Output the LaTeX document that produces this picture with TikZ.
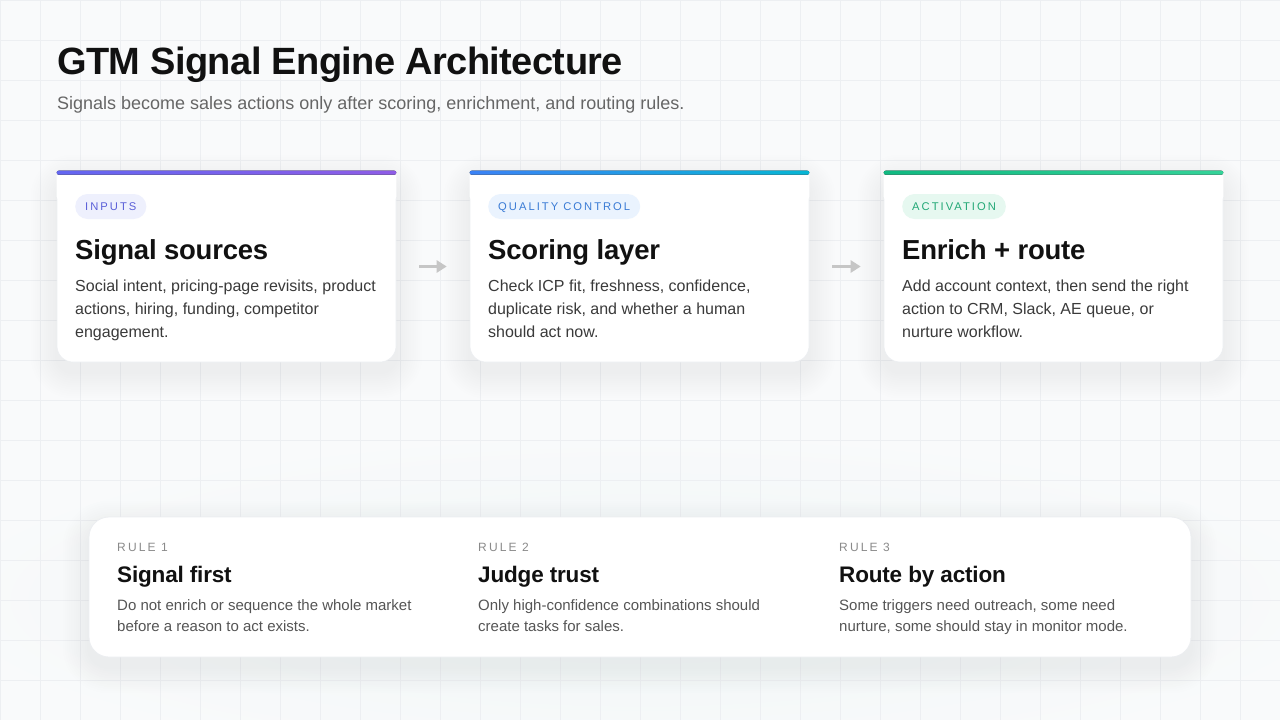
\documentclass[tikz,border=0pt]{standalone}
\usepackage{fontspec}
\setmainfont{Liberation Sans}
\newfontfamily\titlefont[LetterSpace=-1.5]{Liberation Sans}
\newfontfamily\headfont[LetterSpace=-0.8]{Liberation Sans}
\newfontfamily\trackfont[LetterSpace=18]{Liberation Sans}
\newfontfamily\rulefont[LetterSpace=18]{Liberation Sans}
\usetikzlibrary{arrows.meta,calc}
\definecolor{bgc}{HTML}{F9FAFB}
\definecolor{gridc}{HTML}{EDEFF2}
\definecolor{glowc}{HTML}{EFF6F6}
\definecolor{titlec}{HTML}{111111}
\definecolor{subc}{HTML}{666666}
\definecolor{bodyc}{HTML}{3A3A3A}
\definecolor{rbodyc}{HTML}{555555}
\definecolor{rlabc}{HTML}{8A8A8A}
\definecolor{arrowc}{HTML}{C6C6C6}
\definecolor{edgec}{HTML}{ECEEF1}
\definecolor{shadc}{HTML}{5A6470}
\definecolor{shadteal}{HTML}{7DB8B2}
\definecolor{barAl}{HTML}{6366F1}
\definecolor{barAr}{HTML}{8E5CE6}
\definecolor{barBl}{HTML}{3B82F6}
\definecolor{barBr}{HTML}{06B6D4}
\definecolor{barCl}{HTML}{10B981}
\definecolor{barCr}{HTML}{34D399}
\definecolor{pillAf}{HTML}{EEF0FD}
\definecolor{pillAt}{HTML}{5A5FD8}
\definecolor{pillBf}{HTML}{EAF3FE}
\definecolor{pillBt}{HTML}{3A7BD5}
\definecolor{pillCf}{HTML}{E6F8F0}
\definecolor{pillCt}{HTML}{22A876}
\newcommand\myfs[2]{\fontsize{#1}{#2}\selectfont}
\newcommand\softshadow[6]{%
  \foreach \k in {1,...,12}{%
    \fill[#5, opacity=#6, rounded corners={#3+\k*2.2}]
      ($(#1)+(-\k*2.2,-\k*2.2+#4)$) rectangle ($(#2)+(\k*2.2,\k*2.2+#4)$);
  }}
\tikzset{
  gridline/.style={gridc, line width=1pt},
  cardbox/.style={fill=white, draw=edgec, line width=0.6pt, rounded corners=16pt,
    minimum width=339pt, minimum height=191pt, inner sep=0pt},
  pill/.style={rounded corners=12.5pt, minimum height=25pt, inner xsep=10pt, inner ysep=0pt,
    text height=8pt, text depth=0pt, font=\trackfont\myfs{11.2}{13}, anchor=west},
  cardtitle/.style={anchor=base west, inner sep=0pt, text=titlec, font=\headfont\bfseries\myfs{27.5}{30}},
  cardbody/.style={anchor=base west, inner sep=0pt, text=bodyc, align=left, font=\myfs{16}{23}},
  flowarrow/.style={arrowc, line width=3.4pt, shorten <=23pt, shorten >=23pt,
    -{Triangle[length=10pt,width=12pt]}},
  panel/.style={fill=white, draw=edgec, line width=0.8pt, rounded corners=20pt,
    minimum width=1102pt, minimum height=140pt, inner sep=0pt},
  rulelabel/.style={anchor=base west, inner sep=0pt, text=rlabc, font=\rulefont\myfs{12}{14}},
  ruletitle/.style={anchor=base west, inner sep=0pt, text=titlec, font=\headfont\bfseries\myfs{22.5}{25}},
  rulebody/.style={anchor=base west, inner sep=0pt, text=rbodyc, align=left, font=\myfs{15}{21}},
}
\begin{document}
\begin{tikzpicture}[x=1pt, y=-1pt]
\useasboundingbox (0,0) rectangle (1280,720);
\fill[bgc] (0,0) rectangle (1280,720);
\shade[inner color=glowc, outer color=bgc] (640,600) ellipse [x radius=720, y radius=170];
\foreach \gx in {0,40,...,1280} \draw[gridline] (\gx,0) -- (\gx,720);
\foreach \gy in {0,40,...,720} \draw[gridline] (0,\gy) -- (1280,\gy);

% header
\node[anchor=base west, inner sep=0pt, text=titlec, font=\titlefont\bfseries\myfs{38}{44}] (title) at (57,74) {GTM Signal Engine Architecture};
\node[anchor=base west, inner sep=0pt, text=subc, font=\myfs{18}{20}] (subtitle) at (57,109) {Signals become sales actions only after scoring, enrichment, and routing rules.};

% card shadows
\softshadow{57,171}{396,362}{16}{10}{shadc}{0.005}
\softshadow{470,171}{809,362}{16}{10}{shadc}{0.005}
\softshadow{884,171}{1223,362}{16}{10}{shadc}{0.005}

% card 1
\node[cardbox] (card1) at (226.5,266.5) {};
\fill[white, rounded corners=4pt] (card1.north west) rectangle ($(card1.north east)+(0,30)$);
\fill[left color=barAl, right color=barAr, rounded corners=2pt] (card1.north west) rectangle ($(card1.north east)+(0,4)$);
\node[pill, fill=pillAf, text=pillAt] (badge1) at (75,206.5) {INPUTS};
\node[cardtitle] (head1) at (75,259) {Signal sources};
\node[cardbody] (body1) at (75,337) {Social intent, pricing-page revisits, product\\actions, hiring, funding, competitor\\engagement.};

% card 2
\node[cardbox] (card2) at (639.5,266.5) {};
\fill[white, rounded corners=4pt] (card2.north west) rectangle ($(card2.north east)+(0,30)$);
\fill[left color=barBl, right color=barBr, rounded corners=2pt] (card2.north west) rectangle ($(card2.north east)+(0,4)$);
\node[pill, fill=pillBf, text=pillBt] (badge2) at (488,206.5) {QUALITY CONTROL};
\node[cardtitle] (head2) at (488,259) {Scoring layer};
\node[cardbody] (body2) at (488,337) {Check ICP fit, freshness, confidence,\\duplicate risk, and whether a human\\should act now.};

% card 3
\node[cardbox] (card3) at (1053.5,266.5) {};
\fill[white, rounded corners=4pt] (card3.north west) rectangle ($(card3.north east)+(0,30)$);
\fill[left color=barCl, right color=barCr, rounded corners=2pt] (card3.north west) rectangle ($(card3.north east)+(0,4)$);
\node[pill, fill=pillCf, text=pillCt] (badge3) at (902,206.5) {ACTIVATION};
\node[cardtitle] (head3) at (902,259) {Enrich + route};
\node[cardbody] (body3) at (902,337) {Add account context, then send the right\\action to CRM, Slack, AE queue, or\\nurture workflow.};

% connectors
\draw[flowarrow] (card1.east) -- (card2.west);
\draw[flowarrow] (card2.east) -- (card3.west);

% rules panel
\softshadow{89,517}{1191,657}{20}{10}{shadteal}{0.004}
\node[panel] (rules) at (640,587) {};
\node[rulelabel] (lab1) at (117,551) {RULE 1};
\node[ruletitle] (rt1) at (117,582) {Signal first};
\node[rulebody] (rb1) at (117,631) {Do not enrich or sequence the whole market\\before a reason to act exists.};
\node[rulelabel] (lab2) at (478,551) {RULE 2};
\node[ruletitle] (rt2) at (478,582) {Judge trust};
\node[rulebody] (rb2) at (478,631) {Only high-confidence combinations should\\create tasks for sales.};
\node[rulelabel] (lab3) at (839,551) {RULE 3};
\node[ruletitle] (rt3) at (839,582) {Route by action};
\node[rulebody] (rb3) at (839,631) {Some triggers need outreach, some need\\nurture, some should stay in monitor mode.};
\end{tikzpicture}
\end{document}
